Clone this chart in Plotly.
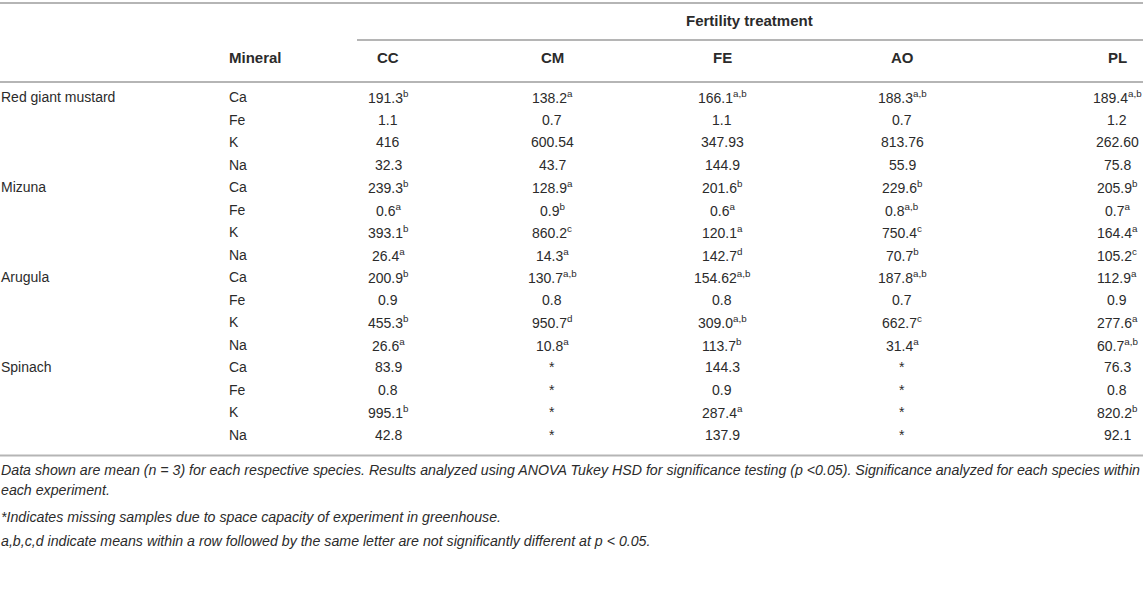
import plotly.graph_objects as go

# Données du tableau
species = ["Red giant mustard", "Mizuna", "Arugula", "Spinach"]
minerals = ["Ca", "Fe", "K", "Na"]
treatments = ["CC", "CM", "FE", "AO", "PL"]

cc = ["191.3", "1.1", "416", "32.3", "239.3", "0.6", "393.1", "26.4",
      "200.9", "0.9", "455.3", "26.6", "83.9", "0.8", "995.1", "42.8"]
cc_sig = ["b", "", "", "", "b", "a", "b", "a", "b", "", "b", "a", "", "", "b", ""]

cm = ["138.2", "0.7", "600.54", "43.7", "128.9", "0.9", "860.2", "14.3",
      "130.7", "0.8", "950.7", "10.8", "*", "*", "*", "*"]
cm_sig = ["a", "", "", "", "a", "b", "c", "a", "a,b", "", "d", "a", "", "", "", ""]

fe = ["166.1", "1.1", "347.93", "144.9", "201.6", "0.6", "120.1", "142.7",
      "154.62", "0.8", "309.0", "113.7", "144.3", "0.9", "287.4", "137.9"]
fe_sig = ["a,b", "", "", "", "b", "a", "a", "d", "a,b", "", "a,b", "b", "", "", "a", ""]

ao = ["188.3", "0.7", "813.76", "55.9", "229.6", "0.8", "750.4", "70.7",
      "187.8", "0.7", "662.7", "31.4", "*", "*", "*", "*"]
ao_sig = ["a,b", "", "", "", "b", "a,b", "c", "b", "a,b", "", "c", "a", "", "", "", ""]

pl = ["189.4", "1.2", "262.60", "75.8", "205.9", "0.7", "164.4", "105.2",
      "112.9", "0.9", "277.6", "60.7", "76.3", "0.8", "820.2", "92.1"]
pl_sig = ["a,b", "", "", "", "b", "a", "a", "c", "a", "", "a", "a,b", "", "", "b", ""]

notes = [
    "Data shown are mean (n = 3) for each respective species. Results analyzed using ANOVA Tukey HSD for significance testing (p <0.05). Significance analyzed for each species within",
    "each experiment.",
    "*Indicates missing samples due to space capacity of experiment in greenhouse.",
    "a,b,c,d indicate means within a row followed by the same letter are not significantly different at p < 0.05.",
]

# Mise en page (coordonnées en pixels)
W, H = 1143, 609
FONT = "Liberation Sans, Arial, sans-serif"
TXT = "#2b2b2b"
RULE = "#b5b5b5"
col_x = [388, 552, 722, 902, 1117]
mineral_x = 228
row0, step = 97, 22.5
note_y = [470, 490, 517, 541]

columns = [(cc, cc_sig), (cm, cm_sig), (fe, fe_sig), (ao, ao_sig), (pl, pl_sig)]

fig = go.Figure()
ann = []

def cell(x, y, text, anchor="center", bold=False, size=14, italic=False):
    if bold:
        text = "<b>" + text + "</b>"
    if italic:
        text = "<i>" + text + "</i>"
    ann.append(dict(x=x, y=y, xref="x", yref="y", text=text, showarrow=False,
                    xanchor=anchor, yanchor="middle", borderpad=0,
                    font=dict(family=FONT, size=size, color=TXT)))

# En-têtes
cell(749, 20, "Fertility treatment", bold=True, size=15)
cell(mineral_x, 57, "Mineral", anchor="left", bold=True, size=15)
for x, t in zip(col_x, treatments):
    cell(x, 57, t, bold=True, size=15)

# Lignes du tableau
for i in range(len(species) * len(minerals)):
    y = row0 + i * step
    if i % len(minerals) == 0:
        cell(0, y, species[i // len(minerals)], anchor="left")
    cell(mineral_x, y, minerals[i % len(minerals)], anchor="left")
    for x, (vals, sig) in zip(col_x, columns):
        t = vals[i]
        if sig[i]:
            t += "<sup>" + sig[i] + "</sup>"
        cell(x, y, t)

for y, n in zip(note_y, notes):
    cell(0, y, n, anchor="left", size=14.2, italic=True)

# Filets
bottom = row0 + 15 * step + 21
for x0, x1, y in [(0, W, 3), (357, W, 40), (0, W, 82), (0, W, bottom)]:
    fig.add_shape(type="line", x0=x0, x1=x1, y0=y, y1=y, xref="x", yref="y",
                  line=dict(color=RULE, width=2))

fig.update_layout(
    width=W, height=H, margin=dict(l=0, r=0, t=0, b=0),
    paper_bgcolor="white", plot_bgcolor="white",
    annotations=ann, showlegend=False,
)
fig.update_xaxes(range=[0, W], visible=False, fixedrange=True)
fig.update_yaxes(range=[H, 0], visible=False, fixedrange=True)

fig.write_html("out.html", config={"displayModeBar": False},
               post_script="document.body.style.margin='0';document.body.style.overflow='hidden';")
